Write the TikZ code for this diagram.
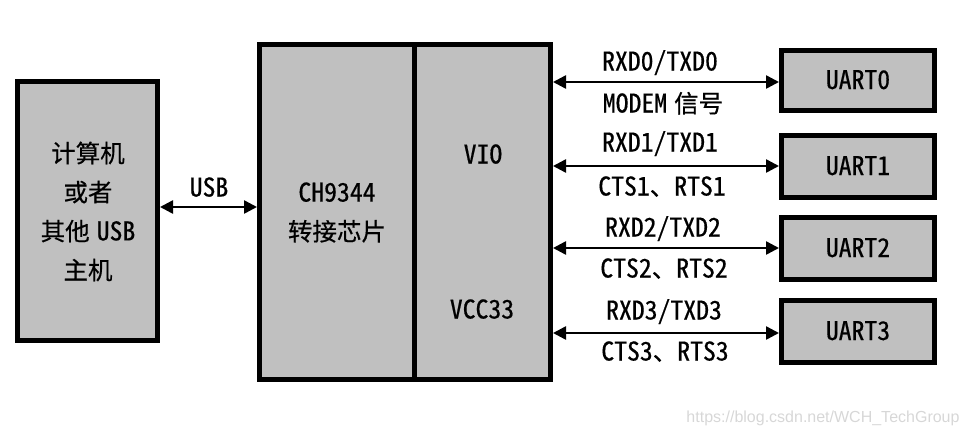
\documentclass[tikz,border=0pt]{standalone}
\usepackage{fontspec}
\setmainfont[RawFeature=+hwid, Scale=1.05, FakeBold=0.5]{Noto Sans CJK SC}
\newfontfamily\cjk[FakeBold=0.5]{Noto Sans CJK SC}
\newfontfamily\wmfont{Liberation Sans}
\usetikzlibrary{arrows.meta}
\definecolor{boxgray}{RGB}{192,192,192}
\definecolor{wmgray}{RGB}{215,215,215}
\begin{document}
\begin{tikzpicture}[x=1pt,y=-1pt,
  blk/.style={draw=black, line width=5pt, fill=boxgray, inner sep=0pt},
  txt/.style={font=\fontsize{24.5}{39}\selectfont, inner sep=0pt, align=center},
  lbl/.style={font=\fontsize{24.5}{39}\selectfont, inner sep=0pt, text height=17pt, text depth=0pt, anchor=center},
  arr/.style={{Triangle[length=13pt,width=13pt]}-{Triangle[length=13pt,width=13pt]}, line width=2.5pt}]
\useasboundingbox (0,0) rectangle (969,437);
% host
\node[blk, minimum width=140pt, minimum height=259pt] (pc) at (87.5,211) {};
\node[txt] (pctext) at (88,211.5) {{\cjk 计算机}\\{\cjk 或者}\\{\cjk 其他}\kern7pt USB\\{\cjk 主机}};
% chip
\node[blk, minimum width=155pt, minimum height=335pt] (chipL) at (337,212) {};
\node[blk, minimum width=136pt, minimum height=335pt] (chipR) at (482.5,212) {};
\node[txt] (chiptext) at (337,212.5) {CH9344\\{\cjk 转接芯片}};
\node[lbl] (vio) at (483,155) {VIO};
\node[lbl] (vcc) at (482,310) {VCC33};
% uarts
\node[blk, minimum width=153pt, minimum height=60pt] (u0) at (858,80.5) {};
\node[blk, minimum width=153pt, minimum height=62pt] (u1) at (858,166.5) {};
\node[blk, minimum width=153pt, minimum height=62pt] (u2) at (858,248.5) {};
\node[blk, minimum width=153pt, minimum height=62pt] (u3) at (858,331.5) {};
\node[lbl] at (u0) {UART0};
\node[lbl] at (u1) {UART1};
\node[lbl] at (u2) {UART2};
\node[lbl] at (u3) {UART3};
% USB link
\coordinate (usby) at (0,207);
\draw[arr] (pc.east |- usby) -- (chipL.west |- usby);
\node[lbl] (usblbl) at (209,188) {USB};
% UART links
\coordinate (y0) at (0,82);
\coordinate (y1) at (0,166);
\coordinate (y2) at (0,248);
\coordinate (y3) at (0,333);
\draw[arr] (chipR.east |- y0) -- (u0.west |- y0);
\draw[arr] (chipR.east |- y1) -- (u1.west |- y1);
\draw[arr] (chipR.east |- y2) -- (u2.west |- y2);
\draw[arr] (chipR.east |- y3) -- (u3.west |- y3);
\node[lbl] at (660,62) {RXD0/TXD0};
\node[lbl] at (663,104) {MODEM\kern7pt{\cjk 信号}};
\node[lbl] at (660,143) {RXD1/TXD1};
\node[lbl] at (662,187) {CTS1{\cjk 、}RTS1};
\node[lbl] at (663,228) {RXD2/TXD2};
\node[lbl] at (664,269) {CTS2{\cjk 、}RTS2};
\node[lbl] at (664,311) {RXD3/TXD3};
\node[lbl] at (665,352) {CTS3{\cjk 、}RTS3};
% watermark
\node[font=\wmfont\fontsize{16}{16}\selectfont, text=wmgray, inner sep=0pt] (wm) at (823,418) {https://blog.csdn.net/WCH\_TechGroup};
\end{tikzpicture}
\end{document}
